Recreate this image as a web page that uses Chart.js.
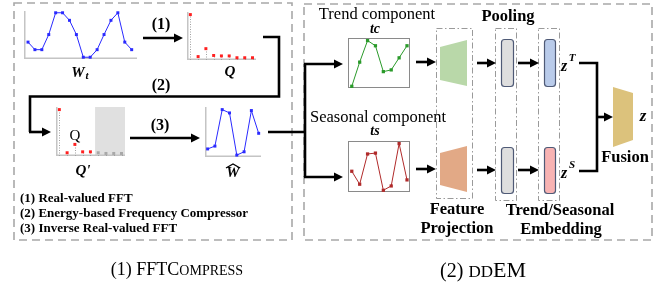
<!DOCTYPE html>
<html>
<head>
<meta charset="utf-8">
<script src="https://cdn.jsdelivr.net/npm/chart.js@4.4.0/dist/chart.umd.min.js"></script>
<style>
  body { margin: 0; background: #fff; }
  #wrap { position: relative; width: 670px; height: 284px; overflow: hidden; }
  #wrap canvas { position: absolute; }
</style>
</head>
<body>
<div id="wrap"><canvas id="bg" width="670" height="284" style="left:0;top:0"></canvas></div>
<script>
// values
const wtValues = [0.34, 0.17, 0.17, 0.51, 1, 1, 0.83, 0.51, 0, 0, 0.17, 0.51, 0.83, 1, 0.34, 0.17];
const qValues = [1, 0.075, 0.25, 0.1, 0.09, 0.09, 0.05, 0.05, 0.05];
const qKeptValues = [1, 0.07, 0.25, 0.09, 0.09];
const qDroppedValues = [0.07, 0.055, 0.055, 0.055];
const droppedFrom = 4.6;
const wHatValues = [1.7, 2.3, 10, 9.3, 0.4, 1.1, 9.8, 5.0];
const trendValues = [2, 30, 55, 49, 19, 21, 35, 49];
const seasonalValues = [24, 9, 44, 45, 2, 7, 56, 14];

const wrap = document.getElementById("wrap");
const SERIF = "'Liberation Serif', 'Times New Roman', serif";

function pts(values, start) {
  return values.map((v, i) => ({ x: i + (start || 0), y: v }));
}

// axis lines on the left and bottom
const axesPlugin = {
  id: "axes",
  beforeDatasetsDraw(chart, args, opts) {
    const { ctx, chartArea: a } = chart;
    ctx.save();
    if (opts.box) {
      ctx.strokeStyle = "#8a8a8a";
      ctx.lineWidth = 1;
      ctx.strokeRect(a.left + 0.5, a.top + 0.5, a.right - a.left - 1, a.bottom - a.top - 1);
    } else if (opts.axes) {
      ctx.strokeStyle = "#c4c4c4";
      ctx.lineWidth = 1.5;
      ctx.beginPath();
      ctx.moveTo(a.left + 0.75, a.top);
      ctx.lineTo(a.left + 0.75, a.bottom - 0.75);
      ctx.lineTo(a.right, a.bottom - 0.75);
      ctx.stroke();
    }
    ctx.restore();
  }
};

// dotted stems from zero to each point
const stemPlugin = {
  id: "stems",
  beforeDatasetsDraw(chart, args, opts) {
    if (!opts.on) return;
    const { ctx } = chart;
    const y0 = chart.scales.y.getPixelForValue(0);
    ctx.save();
    ctx.strokeStyle = "#a0a0a0";
    ctx.lineWidth = 1;
    ctx.setLineDash([1, 1.5]);
    chart.data.datasets.forEach((ds, di) => {
      chart.getDatasetMeta(di).data.forEach(p => {
        ctx.beginPath();
        ctx.moveTo(Math.round(p.x) + 0.5, y0);
        ctx.lineTo(Math.round(p.x) + 0.5, p.y);
        ctx.stroke();
      });
    });
    ctx.restore();
  }
};

// shaded area of the dropped frequencies
const shadePlugin = {
  id: "shade",
  beforeDraw(chart, args, opts) {
    if (opts.from === undefined) return;
    const { ctx, chartArea: a } = chart;
    const x = chart.scales.x.getPixelForValue(opts.from);
    ctx.save();
    ctx.fillStyle = "#e0e0e0";
    ctx.fillRect(x, a.top, a.right - x, a.bottom - a.top);
    ctx.restore();
  }
};

function mini(box, datasets, xr, yr, extra) {
  const c = document.createElement("canvas");
  c.width = box.w;
  c.height = box.h;
  c.style.left = box.x + "px";
  c.style.top = box.y + "px";
  wrap.appendChild(c);
  return new Chart(c, {
    type: "scatter",
    data: { datasets },
    options: {
      responsive: false,
      animation: false,
      devicePixelRatio: 1,
      events: [],
      layout: { padding: 0 },
      plugins: Object.assign({ legend: { display: false }, tooltip: { enabled: false } }, extra),
      scales: {
        x: { type: "linear", display: false, min: xr[0], max: xr[1] },
        y: { type: "linear", display: false, min: yr[0], max: yr[1] }
      }
    },
    plugins: [axesPlugin, stemPlugin, shadePlugin]
  });
}

function lineSet(values, color, r) {
  return {
    data: pts(values),
    showLine: true,
    borderColor: color,
    borderWidth: 1,
    pointStyle: "rect",
    pointRadius: r || 2.1,
    pointBackgroundColor: color,
    pointBorderWidth: 0,
    clip: false
  };
}

function dotSet(values, color, start) {
  return {
    data: pts(values, start),
    showLine: false,
    pointStyle: "rect",
    pointRadius: 2.1,
    pointBackgroundColor: color,
    pointBorderWidth: 0,
    clip: false
  };
}

mini({ x: 20, y: 7, w: 121, h: 56 }, [lineSet(wtValues, "#2a2aff")], [-0.58, 15.77], [-0.04, 1.04], { axes: { axes: true } });
mini({ x: 183, y: 8, w: 77, h: 56 }, [dotSet(qValues, "#ff2020")], [-0.43, 8.45], [0, 1.057], { axes: { axes: true }, stems: { on: true } });
mini({ x: 52, y: 103, w: 77, h: 57 }, [dotSet(qKeptValues, "#ff2020"), dotSet(qDroppedValues, "#a8a8a8", 5)], [-0.43, 8.45], [0, 1.056], { axes: { axes: true }, stems: { on: true }, shade: { from: droppedFrom } });
mini({ x: 201, y: 103, w: 64, h: 58 }, [lineSet(wHatValues, "#2a2aff")], [-0.36, 7.32], [0, 10.55], { axes: { axes: true } });
mini({ x: 344, y: 34, w: 70, h: 58 }, [lineSet(trendValues, "#2a9a2a", 2.3)], [-0.48, 7.38], [0, 58], { axes: { box: true } });
mini({ x: 344, y: 137, w: 70, h: 59 }, [lineSet(seasonalValues, "#b02a2a", 2.3)], [-0.48, 7.38], [0, 59], { axes: { box: true } });

// diagram frame, arrows and labels
const ctx = document.getElementById("bg").getContext("2d");
ctx.fillStyle = "#fff";
ctx.fillRect(0, 0, 670, 284);

function rect(x1, y1, x2, y2, dash, color, lw) {
  ctx.save();
  ctx.strokeStyle = color;
  ctx.lineWidth = lw;
  ctx.setLineDash(dash);
  ctx.strokeRect(x1, y1, x2 - x1, y2 - y1);
  ctx.restore();
}

function path(p) {
  ctx.save();
  ctx.strokeStyle = "#000";
  ctx.lineWidth = 2.6;
  ctx.lineJoin = "miter";
  ctx.beginPath();
  ctx.moveTo(p[0][0], p[0][1]);
  for (let i = 1; i < p.length; i++) ctx.lineTo(p[i][0], p[i][1]);
  ctx.stroke();
  ctx.restore();
}

function arrow(x1, y, x2) {
  path([[x1, y], [x2 - 6, y]]);
  ctx.beginPath();
  ctx.moveTo(x2, y);
  ctx.lineTo(x2 - 9, y - 4.5);
  ctx.lineTo(x2 - 9, y + 4.5);
  ctx.closePath();
  ctx.fillStyle = "#000";
  ctx.fill();
}

function poly(p, fill) {
  ctx.beginPath();
  ctx.moveTo(p[0][0], p[0][1]);
  for (let i = 1; i < p.length; i++) ctx.lineTo(p[i][0], p[i][1]);
  ctx.closePath();
  ctx.fillStyle = fill;
  ctx.fill();
}

function bar(x, y, w, h, fill) {
  ctx.beginPath();
  ctx.roundRect(x + 0.5, y + 0.5, w, h, 3);
  ctx.fillStyle = fill;
  ctx.fill();
  ctx.strokeStyle = "#4f5a76";
  ctx.lineWidth = 1.2;
  ctx.stroke();
}

function text(s, x, y, font, align) {
  ctx.font = font;
  ctx.fillStyle = "#000";
  ctx.textAlign = align || "center";
  ctx.textBaseline = "middle";
  ctx.fillText(s, x, y);
}

// outer dashed boxes
rect(14, 3, 292, 240, [8, 5], "#a8a8a8", 1.6);
rect(304, 4, 652, 240, [8, 5], "#a8a8a8", 1.6);

// dash-dot boxes
const dd = [6, 2.5, 1.5, 2.5];
rect(436.5, 28.5, 472.5, 198.5, dd, "#9a9a9a", 1);
rect(495.5, 28.5, 516.5, 200.5, dd, "#9a9a9a", 1);
rect(538.5, 28.5, 559.5, 200.5, dd, "#9a9a9a", 1);

// left panel arrows
arrow(143, 38, 183);
path([[263, 37], [279, 37], [279, 96.5], [30, 96.5], [30, 132]]);
arrow(29, 132, 51);
arrow(130, 138, 200);

// right panel arrows
path([[268, 132], [305, 132]]);
path([[305, 64], [305, 177]]);
arrow(304, 64, 343);
arrow(304, 177, 343);
arrow(416, 62, 436);
arrow(416, 169, 436);
arrow(477, 63, 496);
arrow(477, 170, 496);
arrow(518, 63, 539);
arrow(518, 170, 539);
path([[579, 63], [597, 63], [597, 171], [579, 171]]);
arrow(597, 117, 613);

// shapes
poly([[440, 47], [467, 40], [467, 86], [440, 80]], "#b9d8a9");
poly([[440, 153], [467, 146], [467, 192], [440, 185]], "#e2a986");
poly([[613, 87], [633, 93], [633, 140], [613, 147]], "#dcc27c");
bar(501, 39, 12, 47, "#dedede");
bar(501, 147, 12, 46, "#dedede");
bar(544, 39, 11, 47, "#b9cbea");
bar(544, 147, 11, 46, "#f8b3b3");

// labels
const B = "bold 16px " + SERIF;
const BI = "italic bold 15px " + SERIF;
text("(1)", 161, 25, B);
text("(2)", 161, 86, B);
text("(3)", 160, 126, B);
text("W", 78, 73, BI);
text("t", 87, 76, "italic bold 11px " + SERIF);
text("Q", 230, 72, BI);
text("Q'", 83, 171, BI);
text("Q", 75, 136, "15px " + SERIF);
text("W", 233, 173, BI);
ctx.beginPath();
ctx.moveTo(226, 168);
ctx.lineTo(233, 164);
ctx.lineTo(240, 168);
ctx.strokeStyle = "#000";
ctx.lineWidth = 1.3;
ctx.stroke();

const L = "bold 13px " + SERIF;
text("(1) Real-valued FFT", 20, 199, L, "left");
text("(2) Energy-based Frequency Compressor", 20, 214, L, "left");
text("(3) Inverse Real-valued FFT", 20, 229, L, "left");

text("Trend component", 377, 15, "16.5px " + SERIF);
text("tc", 375, 29, "italic bold 14px " + SERIF);
text("Seasonal component", 378, 118, "16.5px " + SERIF);
text("ts", 375, 131, "italic bold 14px " + SERIF);

const B2 = "bold 16.5px " + SERIF;
text("Pooling", 508, 17, B2);
text("Feature", 457, 210, B2);
text("Projection", 457, 229, B2);
text("Trend/Seasonal", 560, 211, B2);
text("Embedding", 561, 230, B2);
text("Fusion", 625, 158, B2);

text("z", 564, 67, "italic bold 16px " + SERIF);
text("T", 572, 58, "italic bold 11px " + SERIF);
text("z", 564, 174, "italic bold 16px " + SERIF);
text("S", 572, 165, "italic bold 11px " + SERIF);
text("z", 643, 117, "italic bold 17px " + SERIF);

// captions with small caps
function caption(parts, cx, y) {
  let w = 0;
  parts.forEach(p => { ctx.font = p[1] + "px " + SERIF; w += ctx.measureText(p[0]).width; });
  let x = cx - w / 2;
  parts.forEach(p => {
    ctx.font = p[1] + "px " + SERIF;
    ctx.textAlign = "left";
    ctx.textBaseline = "alphabetic";
    ctx.fillStyle = "#000";
    ctx.fillText(p[0], x, y);
    x += ctx.measureText(p[0]).width;
  });
}
caption([["(1) FFT", 18], ["C", 18], ["OMPRESS", 14]], 177, 275);
caption([["(2) ", 20], ["DD", 17], ["EM", 22]], 483, 277);
</script>
</body>
</html>
